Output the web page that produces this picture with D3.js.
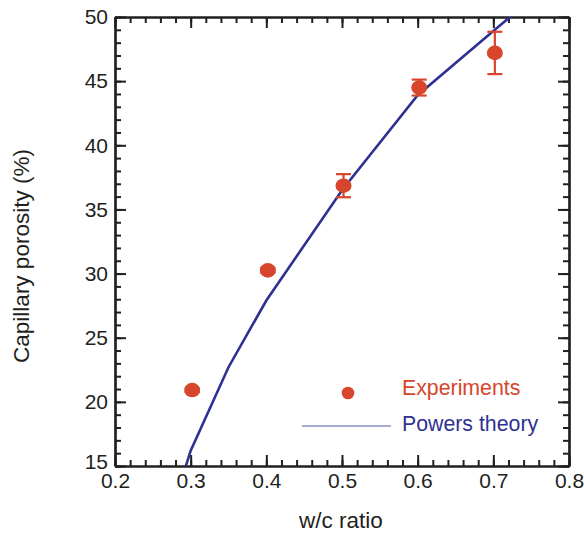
<!DOCTYPE html>
<html>
<head>
<meta charset="utf-8">
<script src="https://cdn.jsdelivr.net/npm/d3@7"></script>
<style>
  body { margin: 0; background: #fff; }
  svg { display: block; font-family: "Liberation Sans", Arial, sans-serif; }
</style>
</head>
<body>
<div id="container"></div>
<script>
// experimental points
const wcExp = [0.302, 0.402, 0.502, 0.602, 0.702];
const porosityExp = [20.92, 30.25, 36.85, 44.5, 47.2];
const errExp = [0.15, 0.2, 0.9, 0.62, 1.65];

// Powers model curve
const wcTheory = [0.29, 0.3, 0.35, 0.4, 0.5, 0.6, 0.7, 0.8];
const porosityTheory = [14.3, 16.2, 22.7, 27.9, 36.5, 43.9, 48.9, 53.9];

const xTicks = [0.2, 0.3, 0.4, 0.5, 0.6, 0.7, 0.8];
const yTicks = [15, 20, 25, 30, 35, 40, 45, 50];

const w = 584, h = 537;
const plotL = 115, plotR = 569, plotT = 17, plotB = 466;
const red = "#d6452c", blue = "#2e3192", ink = "#231f20";

const xScale = d3.scaleLinear().domain([0.2, 0.8]).range([plotL, plotR]);
const yScale = d3.scaleLinear().domain([15, 50]).range([plotB, plotT]);

const svg = d3.select("#container")
  .append("svg")
  .attr("width", w)
  .attr("height", h);

svg.append("defs").append("clipPath")
  .attr("id", "plot")
  .append("rect")
  .attr("x", plotL).attr("y", plotT)
  .attr("width", plotR - plotL).attr("height", plotB - plotT);

const xMinor = d3.range(0.2, 0.8001, 0.02);
const yMinor = d3.range(15, 50.001, 1);

function styleAxis(g) {
  g.selectAll("path.domain").attr("stroke", ink).attr("stroke-width", 2.2);
  g.selectAll(".tick line").attr("stroke", ink).attr("stroke-width", 2);
  g.selectAll(".tick text").attr("fill", ink).style("font-size", "21px")
    .style("font-family", "'Liberation Sans', Arial, sans-serif");
}

// bottom
svg.append("g").attr("transform", "translate(0," + plotB + ")")
  .call(d3.axisBottom(xScale).tickValues(xMinor).tickSize(-6).tickSizeOuter(0).tickFormat(""))
  .call(styleAxis);
svg.append("g").attr("transform", "translate(0," + plotB + ")")
  .call(d3.axisBottom(xScale).tickValues(xTicks).tickSize(-11).tickSizeOuter(0).tickPadding(7).tickFormat(d3.format(".1f")))
  .call(styleAxis);
// top
svg.append("g").attr("transform", "translate(0," + plotT + ")")
  .call(d3.axisTop(xScale).tickValues(xMinor).tickSize(-6).tickSizeOuter(0).tickFormat(""))
  .call(styleAxis);
svg.append("g").attr("transform", "translate(0," + plotT + ")")
  .call(d3.axisTop(xScale).tickValues(xTicks).tickSize(-11).tickSizeOuter(0).tickFormat(""))
  .call(styleAxis);
// left
svg.append("g").attr("transform", "translate(" + plotL + ",0)")
  .call(d3.axisLeft(yScale).tickValues(yMinor).tickSize(-6).tickSizeOuter(0).tickFormat(""))
  .call(styleAxis);
svg.append("g").attr("transform", "translate(" + plotL + ",0)")
  .call(d3.axisLeft(yScale).tickValues(yTicks).tickSize(-11).tickSizeOuter(0).tickPadding(7))
  .call(styleAxis)
  .call(g => g.selectAll(".tick text").filter(d => d === 15).attr("dy", "0.1em"));
// right
svg.append("g").attr("transform", "translate(" + plotR + ",0)")
  .call(d3.axisRight(yScale).tickValues(yMinor).tickSize(-6).tickSizeOuter(0).tickFormat(""))
  .call(styleAxis);
svg.append("g").attr("transform", "translate(" + plotR + ",0)")
  .call(d3.axisRight(yScale).tickValues(yTicks).tickSize(-11).tickSizeOuter(0).tickFormat(""))
  .call(styleAxis);

// theory line
const theory = wcTheory.map((d, i) => [d, porosityTheory[i]]);
svg.append("path")
  .datum(theory)
  .attr("clip-path", "url(#plot)")
  .attr("fill", "none")
  .attr("stroke", blue)
  .attr("stroke-width", 2.6)
  .attr("d", d3.line().x(d => xScale(d[0])).y(d => yScale(d[1])));

// experiments with error bars
const exp = wcExp.map((d, i) => ({ x: d, y: porosityExp[i], e: errExp[i] }));
const pts = svg.append("g");
pts.selectAll("line.err")
  .data(exp).enter().append("line")
  .attr("x1", d => xScale(d.x)).attr("x2", d => xScale(d.x))
  .attr("y1", d => yScale(d.y - d.e)).attr("y2", d => yScale(d.y + d.e))
  .attr("stroke", red).attr("stroke-width", 2.2);
pts.selectAll("line.capTop")
  .data(exp).enter().append("line")
  .attr("x1", d => xScale(d.x) - 7.5).attr("x2", d => xScale(d.x) + 7.5)
  .attr("y1", d => yScale(d.y + d.e)).attr("y2", d => yScale(d.y + d.e))
  .attr("stroke", red).attr("stroke-width", 2.2);
pts.selectAll("line.capBot")
  .data(exp).enter().append("line")
  .attr("x1", d => xScale(d.x) - 7.5).attr("x2", d => xScale(d.x) + 7.5)
  .attr("y1", d => yScale(d.y - d.e)).attr("y2", d => yScale(d.y - d.e))
  .attr("stroke", red).attr("stroke-width", 2.2);
pts.selectAll("ellipse")
  .data(exp).enter().append("ellipse")
  .attr("cx", d => xScale(d.x)).attr("cy", d => yScale(d.y))
  .attr("rx", 8).attr("ry", 7.3)
  .attr("fill", red);

// legend
svg.append("circle").attr("cx", 348).attr("cy", 393).attr("r", 6.3).attr("fill", red);
svg.append("text").attr("x", 402).attr("y", 395).attr("fill", red)
  .style("font-size", "21.3px").text("Experiments");
svg.append("line").attr("x1", 302).attr("x2", 391).attr("y1", 426).attr("y2", 426)
  .attr("stroke", blue).attr("stroke-opacity", 0.8).attr("stroke-width", 1.2);
svg.append("text").attr("x", 402).attr("y", 431).attr("fill", blue)
  .style("font-size", "21.3px").text("Powers theory");

// axis titles
svg.append("text").attr("x", 341).attr("y", 528)
  .attr("text-anchor", "middle").attr("fill", ink)
  .style("font-size", "22.5px").text("w/c ratio");
svg.append("text")
  .attr("transform", "translate(29," + 256 + ") rotate(-90)")
  .attr("text-anchor", "middle").attr("fill", ink)
  .style("font-size", "22.5px").text("Capillary porosity (%)");
</script>
</body>
</html>
